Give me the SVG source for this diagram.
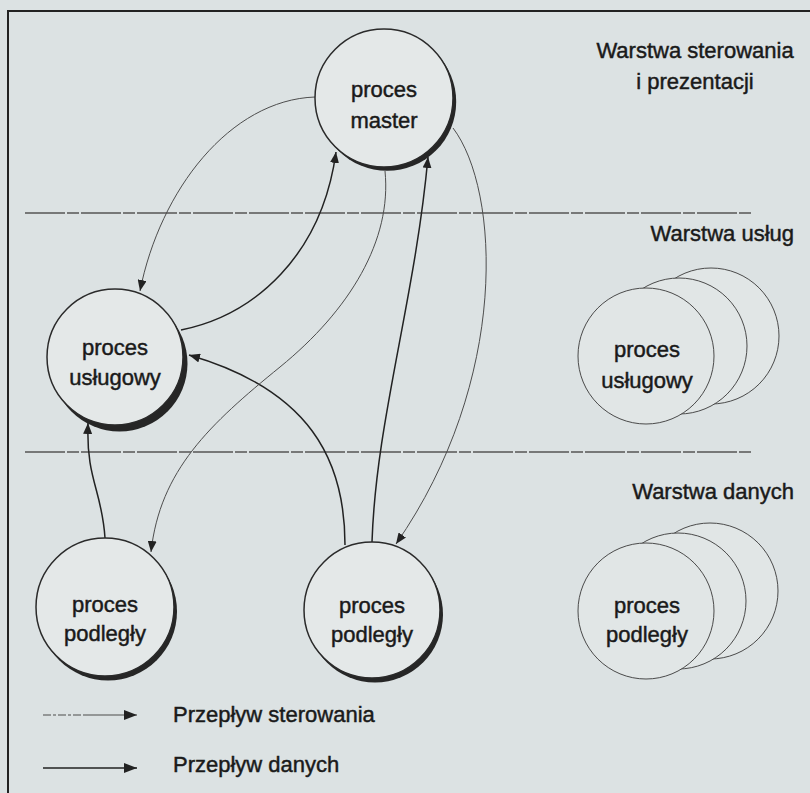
<svg xmlns="http://www.w3.org/2000/svg" width="810" height="793" viewBox="0 0 810 793">
<style>
  text { font-family: "Liberation Sans", Arial, sans-serif; font-size: 22px; fill: #1a1a1a; stroke: #1a1a1a; stroke-width: 0.45; }
  .lbl { text-anchor: middle; }
  .hdr { text-anchor: end; }
  .node { fill: #e4e8e8; stroke: #2a2a2a; stroke-width: 1.5; }
  .shadow { fill: #262626; }
  .ghost { fill: #e1e6e6; stroke: #4a4a4a; stroke-width: 1; }
  .data { fill: none; stroke: #222; stroke-width: 1.5; marker-end: url(#ah); }
  .ctrl { fill: none; stroke: #4d4d4d; stroke-width: 1; marker-end: url(#ah); }
  .layer { fill: none; stroke: #555; stroke-width: 1.6; stroke-dasharray: 40 2 12 2; }
</style>
<defs>
  <marker id="ah" viewBox="0 0 11 9" refX="11" refY="4.5" markerWidth="11" markerHeight="9" markerUnits="userSpaceOnUse" orient="auto">
    <path d="M0,0 L11,4.5 L0,9 Z" fill="#222"/>
  </marker>
  <marker id="ahl" viewBox="0 0 13 10" refX="13" refY="5" markerWidth="13" markerHeight="10" markerUnits="userSpaceOnUse" orient="auto">
    <path d="M0,0 L13,5 L0,10 Z" fill="#222"/>
  </marker>
</defs>

<rect x="0" y="0" width="810" height="793" fill="#dce2e3"/>
<path d="M8,793 V11 H810" fill="none" stroke="#222" stroke-width="2"/>

<g id="layers">
  <line class="layer" x1="25" y1="213" x2="752" y2="213"/>
  <line class="layer" x1="25" y1="452" x2="752" y2="452"/>
  <text class="lbl" x="695" y="58">Warstwa sterowania</text>
  <text class="lbl" x="695" y="89">i prezentacji</text>
  <text class="hdr" x="794" y="241">Warstwa usług</text>
  <text class="hdr" x="794" y="499">Warstwa danych</text>
</g>

<g id="connectors">
  <path class="ctrl" d="M315,97 C230,100 160,190 140,291"/>
  <path class="data" d="M181,330 C255,315 322,255 336,152"/>
  <path class="data" d="M345,545 C345,460 310,390 189,355"/>
  <path class="data" d="M372,542 C376,420 415,300 428,157"/>
  <path class="ctrl" d="M453,128 C500,190 510,380 396,544"/>
  <path class="ctrl" d="M385,171 C392,240 350,310 280,367 S160,470 151,552"/>
  <path class="data" d="M105,538 C102,490 86,480 88,423"/>
</g>

<g id="master">
  <circle class="shadow" cx="387.2" cy="101.8" r="69"/>
  <circle class="node" cx="384" cy="98" r="69"/>
  <text class="lbl" x="384" y="97">proces</text>
  <text class="lbl" x="384" y="128">master</text>
</g>

<g id="uslugowy-left">
  <circle class="shadow" cx="119.5" cy="363.5" r="68"/>
  <circle class="node" cx="115" cy="357" r="68"/>
  <text class="lbl" x="115" y="355">proces</text>
  <text class="lbl" x="115" y="385">usługowy</text>
</g>

<g id="podlegly-left">
  <circle class="shadow" cx="108" cy="611.5" r="69"/>
  <circle class="node" cx="105" cy="607" r="69"/>
  <text class="lbl" x="105" y="612">proces</text>
  <text class="lbl" x="105" y="641">podległy</text>
</g>

<g id="podlegly-mid">
  <circle class="shadow" cx="375" cy="614.5" r="68"/>
  <circle class="node" cx="372" cy="610" r="68"/>
  <text class="lbl" x="372" y="613">proces</text>
  <text class="lbl" x="372" y="642">podległy</text>
</g>

<g id="uslugowy-stack">
  <circle class="ghost" cx="711" cy="336" r="68"/>
  <circle class="ghost" cx="679" cy="346" r="68"/>
  <circle class="ghost" cx="646" cy="356" r="68"/>
  <text class="lbl" x="647" y="357">proces</text>
  <text class="lbl" x="647" y="388">usługowy</text>
</g>

<g id="podlegly-stack">
  <circle class="ghost" cx="710" cy="591" r="68"/>
  <circle class="ghost" cx="678" cy="601" r="68"/>
  <circle class="ghost" cx="646" cy="611" r="68"/>
  <text class="lbl" x="647" y="613">proces</text>
  <text class="lbl" x="647" y="642">podległy</text>
</g>

<g id="legend">
  <path d="M43,715 H137" fill="none" stroke="#4d4d4d" stroke-width="1.2" stroke-dasharray="8 2 3 2 8 2 3 2 8 2 60" marker-end="url(#ahl)"/>
  <text x="173" y="722">Przepływ sterowania</text>
  <path d="M43,768 H137" fill="none" stroke="#222" stroke-width="1.5" marker-end="url(#ahl)"/>
  <text x="173" y="772">Przepływ danych</text>
</g>
</svg>
